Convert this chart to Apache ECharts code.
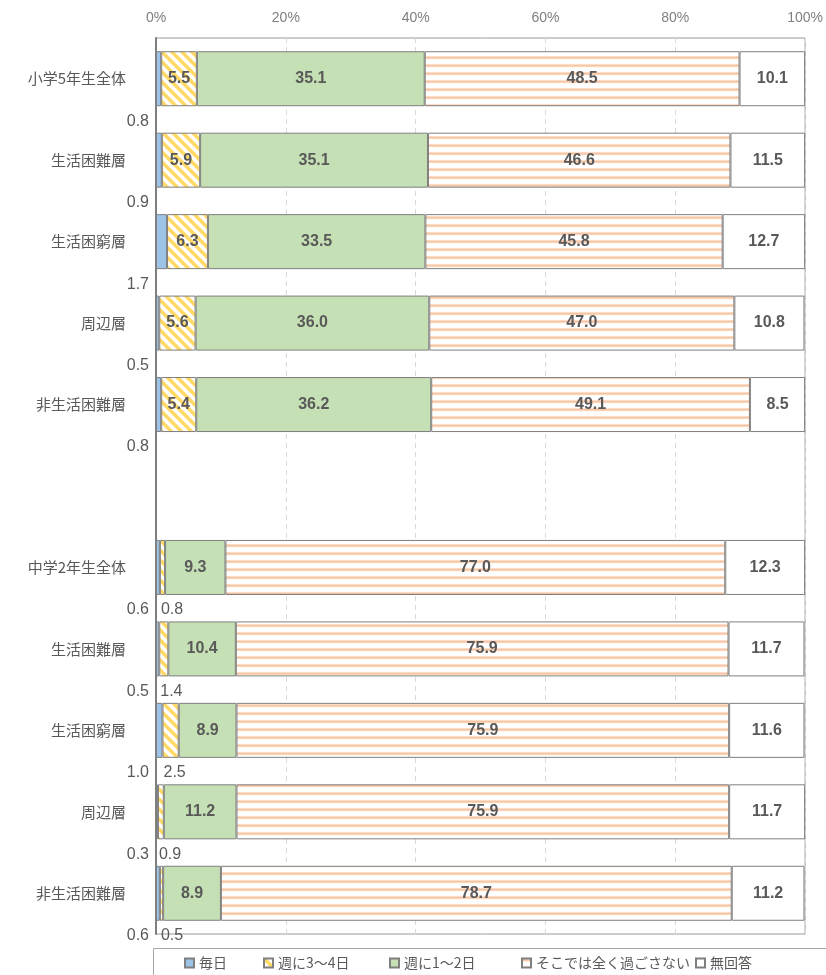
<!DOCTYPE html>
<html><head><meta charset="utf-8">
<script src="https://cdn.jsdelivr.net/npm/echarts@6/dist/echarts.min.js"></script>
<style>html,body{margin:0;padding:0;background:#fff}#c{width:826px;height:975px}</style>
</head><body><div id="c"></div>
<script>
const categories = ['小学5年生全体','生活困難層','生活困窮層','周辺層','非生活困難層','','中学2年生全体','生活困難層','生活困窮層','周辺層','非生活困難層'];
const seriesNames = ['毎日','週に3～4日','週に1～2日','そこでは全く過ごさない','無回答'];
const mainichi  = [0.8, 0.9, 1.7, 0.5, 0.8, '-', 0.6, 0.5, 1.0, 0.3, 0.6];
const shu34     = [5.5, 5.9, 6.3, 5.6, 5.4, '-', 0.8, 1.4, 2.5, 0.9, 0.5];
const shu12     = [35.1, 35.1, 33.5, 36.0, 36.2, '-', 9.3, 10.4, 8.9, 11.2, 8.9];
const sugosanai = [48.5, 46.6, 45.8, 47.0, 49.1, '-', 77.0, 75.9, 75.9, 75.9, 78.7];
const mukaitou  = [10.1, 11.5, 12.7, 10.8, 8.5, '-', 12.3, 11.7, 11.6, 11.7, 11.2];
const xTicks = [0, 20, 40, 60, 80, 100];
const legendLefts = [179, 258, 384, 516, 690];

function diagPattern(){
  const s = 10, c = document.createElement('canvas');
  c.width = s; c.height = s;
  const g = c.getContext('2d');
  g.fillStyle = '#fff'; g.fillRect(0,0,s,s);
  g.strokeStyle = '#FFD966'; g.lineWidth = 3.6;
  for (const o of [-s, 0, s]) { g.beginPath(); g.moveTo(o - 2, -2); g.lineTo(o + s + 2, s + 2); g.stroke(); }
  return c;
}
function hPattern(){
  const c = document.createElement('canvas');
  c.width = 8; c.height = 8;
  const g = c.getContext('2d');
  g.fillStyle = '#fff'; g.fillRect(0,0,8,8);
  g.fillStyle = '#FCE0CE'; g.fillRect(0,0,8,3.2);
  g.fillStyle = '#F8C3A0'; g.fillRect(0,0.9,8,1.5);
  return c;
}

const FONT = 'Liberation Sans, Noto Sans CJK JP';
const border = {borderColor:'#7f7f7f', borderWidth:1};
const fmt = p => Number(p.value).toFixed(1);
const inLabel = {show:true, position:'inside', color:'#595959', fontSize:16, fontWeight:'bold', fontFamily:FONT, formatter:fmt};
const outLabelLeft = {show:true, position:[-7, 70], align:'right', verticalAlign:'middle', color:'#595959',
  fontSize:16, fontFamily:FONT, formatter:fmt};
const outLabelRight = {show:true, position:[1, 70], align:'left', verticalAlign:'middle', color:'#595959',
  fontSize:16, fontFamily:FONT, formatter:fmt};

function mk(name, arr, color, labelFn){
  return {
    name, type:'bar', stack:'total', barWidth:55,
    itemStyle: Object.assign({color}, border),
    emphasis:{disabled:true},
    data: arr.map((v,i) => v === '-' ? '-' : {value:v, label: labelFn(v,i)})
  };
}

const chart = echarts.init(document.getElementById('c'));
chart.setOption({
  animation:false,
  textStyle:{fontFamily:FONT},
  grid:{left:156, right:18, top:38, bottom:41, show:true, borderColor:'#999999', borderWidth:1},
  xAxis:{type:'value', position:'top', min:0, max:100, interval:20,
    axisLine:{show:false}, axisTick:{show:false},
    axisLabel:{color:'#7f7f7f', fontSize:14, margin:13, formatter: v => xTicks.includes(v) ? v + '%' : ''},
    splitLine:{show:true, lineStyle:{type:[5,4], color:'#d9d9d9'}}},
  yAxis:{type:'category', inverse:true, data:categories,
    axisLine:{show:true, lineStyle:{color:'#7f7f7f', width:2}}, axisTick:{show:false},
    axisLabel:{color:'#595959', fontSize:15, margin:30, fontFamily:'Noto Sans CJK JP'}},
  legend: seriesNames.map((n,i) => ({left:legendLefts[i], top:951, itemWidth:9, itemHeight:9, icon:'rect',
    textStyle:{color:'#595959', fontSize:14, fontFamily:'Noto Sans CJK JP'}, data:[n]})),
  graphic:[{type:'rect', left:151, top:946, shape:{width:700, height:40},
    style:{fill:'none', stroke:'#a6a6a6', lineWidth:1}, silent:true}],
  series:[
    mk(seriesNames[0], mainichi, '#9DC3E6', () => outLabelLeft),
    mk(seriesNames[1], shu34, {image:diagPattern(), repeat:'repeat'}, v => v < 3 ? outLabelRight : inLabel),
    mk(seriesNames[2], shu12, '#C5E0B4', () => inLabel),
    mk(seriesNames[3], sugosanai, {image:hPattern(), repeat:'repeat'}, () => inLabel),
    mk(seriesNames[4], mukaitou, '#ffffff', () => inLabel)
  ]
});
</script></body></html>
